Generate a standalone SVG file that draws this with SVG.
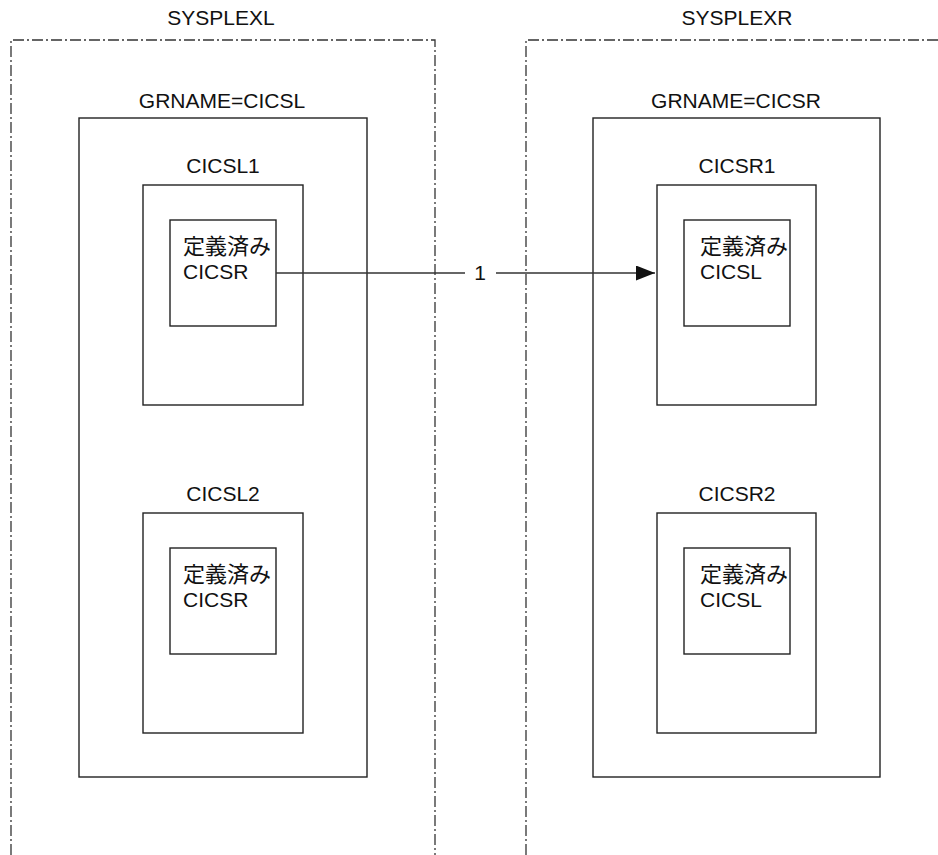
<svg xmlns="http://www.w3.org/2000/svg" width="938" height="855" viewBox="0 0 938 855">
<style>
text{font-family:"Liberation Sans","Noto Sans CJK JP",sans-serif;font-size:21px;fill:#111}
.c{text-anchor:middle}
.j{font-size:22px}
.box{fill:none;stroke:#222;stroke-width:1.4}
.plex{fill:none;stroke:#333;stroke-width:1.3;stroke-dasharray:11 3 2 3}
.conn{fill:none;stroke:#333;stroke-width:1.4}
</style>
<defs>
<marker id="arr" markerWidth="19" markerHeight="15" refX="19" refY="7.5" orient="auto" markerUnits="userSpaceOnUse">
<polygon points="0,0 19,7.5 0,15" fill="#111"/>
</marker>
</defs>
<rect width="938" height="855" fill="#fff"/>
<g id="sysplexl">
<path class="plex" d="M11,855 V40 H435 V855"/>
<text class="c" x="221" y="25">SYSPLEXL</text>
</g>
<g id="sysplexr">
<path class="plex" d="M526,855 V40 H938"/>
<text class="c" x="737" y="25">SYSPLEXR</text>
</g>
<g id="grname-cicsl">
<rect class="box" x="79" y="118" width="288" height="659"/>
<text class="c" x="222" y="108">GRNAME=CICSL</text>
</g>
<g id="grname-cicsr">
<rect class="box" x="593" y="118" width="287" height="659"/>
<text class="c" x="736" y="108">GRNAME=CICSR</text>
</g>
<g id="cicsl1">
<rect class="box" x="143" y="185" width="160" height="220"/>
<text class="c" x="223" y="173">CICSL1</text>
</g>
<g id="cicsl1-def">
<rect class="box" x="170" y="220" width="106" height="106"/>
<text class="j" x="183" y="254">定義済み</text>
<text x="183" y="279">CICSR</text>
</g>
<g id="cicsl2">
<rect class="box" x="143" y="513" width="160" height="220"/>
<text class="c" x="223" y="501">CICSL2</text>
</g>
<g id="cicsl2-def">
<rect class="box" x="170" y="548" width="106" height="106"/>
<text class="j" x="183" y="582">定義済み</text>
<text x="183" y="607">CICSR</text>
</g>
<g id="cicsr1">
<rect class="box" x="657" y="185" width="159" height="220"/>
<text class="c" x="737" y="173">CICSR1</text>
</g>
<g id="cicsr1-def">
<rect class="box" x="684" y="220" width="106" height="106"/>
<text class="j" x="700" y="254">定義済み</text>
<text x="700" y="279">CICSL</text>
</g>
<g id="cicsr2">
<rect class="box" x="657" y="513" width="159" height="220"/>
<text class="c" x="737" y="501">CICSR2</text>
</g>
<g id="cicsr2-def">
<rect class="box" x="684" y="548" width="106" height="106"/>
<text class="j" x="700" y="582">定義済み</text>
<text x="700" y="607">CICSL</text>
</g>
<g id="connectors">
<path class="conn" d="M276,273 H465"/>
<path class="conn" d="M496,273 H655" marker-end="url(#arr)"/>
<text class="c" x="480" y="280">1</text>
</g>
</svg>
